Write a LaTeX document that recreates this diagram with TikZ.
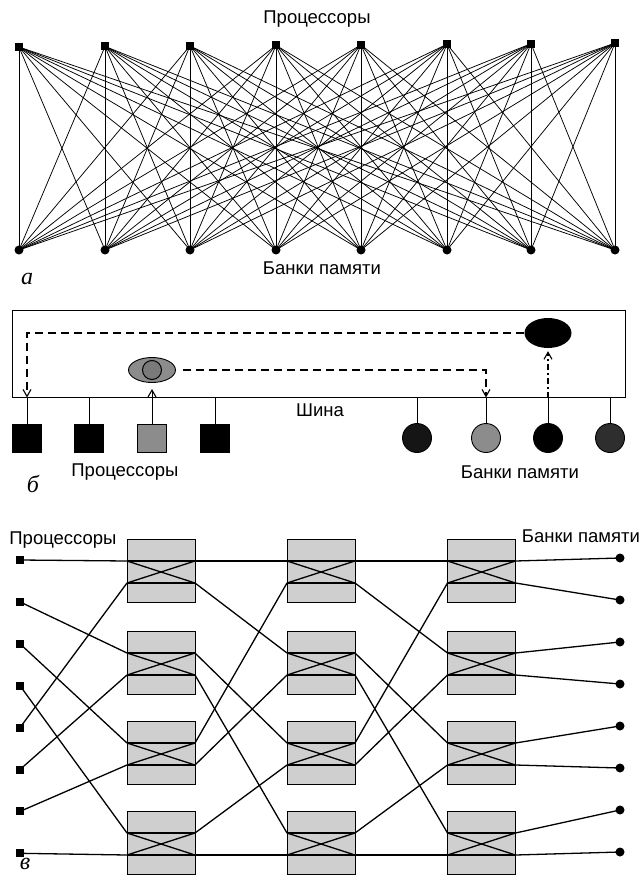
\documentclass[tikz,border=0pt]{standalone}
\usepackage{fontspec}
\setmainfont{Liberation Serif}
\setsansfont{Liberation Sans}
\usetikzlibrary{arrows.meta,shapes.geometric}

\definecolor{swfill}{HTML}{CFCFCF}
\definecolor{midgray}{HTML}{8C8C8C}
\definecolor{innergray}{HTML}{7A7A7A}
\definecolor{darkA}{HTML}{151515}
\definecolor{darkB}{HTML}{2E2E2E}

\begin{document}
\begin{tikzpicture}[x=1pt,y=-1pt,
  lbl/.style={font=\sffamily\fontsize{18.5}{21}\selectfont, inner sep=0pt},
  figletter/.style={font=\itshape\fontsize{24}{26}\selectfont, inner sep=0pt},
  cpu/.style={fill=black, minimum size=8pt, inner sep=0pt},
  mem/.style={circle, fill=black, minimum size=9pt, inner sep=0pt},
  xline/.style={line width=0.75pt},
  busline/.style={line width=1pt},
  pbox/.style={draw=black, line width=0.9pt, minimum width=29pt, minimum height=28pt, inner sep=0pt},
  mbank/.style={circle, draw=black, line width=0.9pt, minimum size=29pt, inner sep=0pt},
  flow/.style={line width=1.1pt, dashed, dash pattern=on 8pt off 5pt},
  flowdot/.style={line width=1.1pt, dash pattern=on 6pt off 3pt on 2pt off 3pt},
  tip/.style={-{Straight Barb[length=7pt,width=8pt,line width=1.1pt]}},
  swbox/.style={draw=black, fill=swfill, line width=1pt, minimum width=68pt, minimum height=63pt, inner sep=0pt},
  wire/.style={line width=1.3pt},
]
\useasboundingbox (0,0) rectangle (643,877);

% ---------- (a) crossbar ----------
\node[lbl] (tproc) at (317,19) {Процессоры};
\node[lbl] (tmem) at (322,268) {Банки памяти};
\node[figletter] (la) at (27,279) {а};
\foreach \i/\x in {0/19,1/105,2/190,3/276,4/361,5/447,6/531,7/615} {
  \node[cpu] (p\i) at (\x,47-\i*0.55) {};
  \node[mem] (m\i) at (\x,250) {};
}
\foreach \i in {0,...,7} {
  \foreach \j in {0,...,7} {
    \draw[xline] (p\i.center) -- (m\j.center);
  }
}

% ---------- (b) shared bus ----------
\node[draw=black, busline, minimum width=613pt, minimum height=87pt, inner sep=0pt] (bus) at (318.5,353.5) {};
\node[lbl] (bbus) at (320,410) {Шина};
\node[lbl] (bproc) at (125,472) {Процессоры};
\node[lbl] (bmem) at (520,472) {Банки памяти};
\node[figletter] (lb) at (33,484) {б};

\node[pbox, fill=black] (q1) at (27,438) {};
\node[pbox, fill=black] (q2) at (89,438) {};
\node[pbox, fill=midgray] (q3) at (152,438) {};
\node[pbox, fill=black] (q4) at (215,438) {};
\foreach \k in {1,2,4} \draw[busline] (q\k.north) -- (q\k.north |- bus.south);

\node[mbank, fill=darkA] (b1) at (417,438) {};
\node[mbank, fill=midgray] (b2) at (486,438) {};
\node[mbank, fill=black] (b3) at (548,438) {};
\node[mbank, fill=darkB] (b4) at (610,438) {};
\foreach \k in {1,2,3,4} \draw[busline] (b\k.north) -- (b\k.north |- bus.south);

\node[ellipse, draw=black, line width=0.9pt, fill=midgray, minimum width=47pt, minimum height=25pt, inner sep=0pt] (gell) at (152,370) {};
\node[circle, draw=black, line width=1pt, fill=innergray, minimum size=19pt, inner sep=0pt] (gcore) at (gell.center) {};
\node[ellipse, fill=black, minimum width=47pt, minimum height=30pt, inner sep=0pt] (kell) at (548,333) {};

% request from the gray processor up into its cache
\draw[busline, tip] (q3.north) -- ([yshift=-6pt]gell.south);
% data paths through the bus
\draw[flow, tip] (kell.west) -- (kell.west -| q1.north) -- (q1.north |- bus.south);
\draw[flow, tip] ([xshift=7pt]gell.east) -- (gell.east -| b2.north) -- (b2.north |- bus.south);
\draw[flowdot, tip] (b3.north |- bus.south) -- ([yshift=-3pt]kell.south);

% ---------- (c) omega network ----------
\node[lbl] (cproc) at (63,540) {Процессоры};
\node[lbl] (cmem) at (581,536) {Банки памяти};
\node[figletter] (lc) at (25,864) {в};

\foreach \i in {0,...,7} {
  \node[cpu] (cp\i) at (20,560+41.9*\i) {};
  \node[mem] (cm\i) at (620,558+42*\i) {};
}

\foreach \s/\x in {1/161,2/321,3/481.5} {
  \foreach \k/\t in {0/539,1/631,2/721,3/811} {
    \node[swbox] (sw\s\k) at (\x,\t+31.5) {};
    \pgfmathtruncatemacro{\na}{2*\k}
    \pgfmathtruncatemacro{\nb}{2*\k+1}
    \coordinate (in\s-\na) at (\x-34,\t+22);
    \coordinate (in\s-\nb) at (\x-34,\t+44);
    \coordinate (out\s-\na) at (\x+34,\t+22);
    \coordinate (out\s-\nb) at (\x+34,\t+44);
    \draw[wire] (in\s-\na) -- (out\s-\na);
    \draw[wire] (in\s-\nb) -- (out\s-\nb);
    \draw[wire] (in\s-\na) -- (out\s-\nb);
    \draw[wire] (in\s-\nb) -- (out\s-\na);
  }
}

% perfect shuffle between the columns
\foreach \src/\dst in {0/0,4/1,1/2,5/3,2/4,6/5,3/6,7/7} {
  \draw[wire] (cp\src.center) -- (in1-\dst);
  \draw[wire] (out1-\src) -- (in2-\dst);
  \draw[wire] (out2-\src) -- (in3-\dst);
}
\foreach \j in {0,...,7} \draw[wire] (out3-\j) -- (cm\j.center);

\end{tikzpicture}
\end{document}
